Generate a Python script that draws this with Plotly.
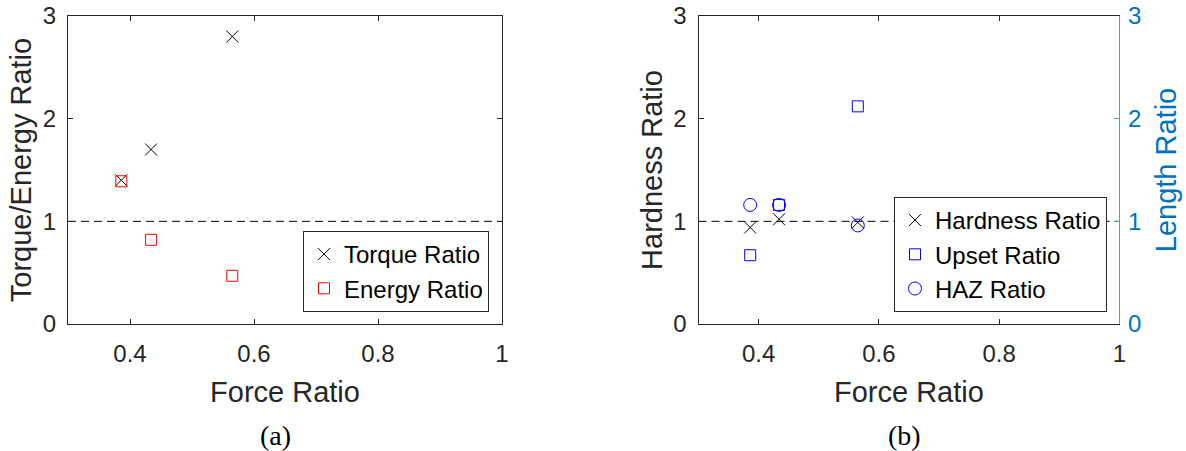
import plotly.graph_objects as go

# ---- data ----
force_ratio = [0.386, 0.434, 0.565]
torque_ratio = [1.40, 1.70, 2.80]
energy_ratio = [1.39, 0.82, 0.47]
hardness_ratio = [0.94, 1.02, 0.99]
upset_ratio = [0.67, 1.16, 2.12]
haz_ratio = [1.16, 1.16, 0.96]
ref_x = [0.3, 1.0]
ref_y = [1, 1]
x_ticks = [0.4, 0.6, 0.8, 1]
x_tick_text = ["0.4", "0.6", "0.8", "1"]
y_ticks = [0, 1, 2, 3]
y_tick_text = ["0", "1", "2", "3"]

DARK = "#262626"
BLUE = "#0072BD"
SANS = "Liberation Sans, Arial, sans-serif"
SERIF = "Liberation Serif, Times New Roman, serif"

fig = go.Figure()

# reference dashed lines
fig.add_trace(go.Scatter(x=ref_x, y=ref_y, mode="lines", xaxis="x", yaxis="y",
                         line=dict(color="black", width=1, dash="8px,5px"),
                         showlegend=False, hoverinfo="skip"))
fig.add_trace(go.Scatter(x=ref_x, y=ref_y, mode="lines", xaxis="x2", yaxis="y3",
                         line=dict(color="black", width=1, dash="8px,5px"),
                         showlegend=False, hoverinfo="skip"))

# panel (a)
fig.add_trace(go.Scatter(x=force_ratio, y=torque_ratio, mode="markers", name="Torque Ratio",
                         xaxis="x", yaxis="y", legend="legend",
                         marker=dict(symbol="x-thin-open", size=12, color="black",
                                     line=dict(color="black", width=1))))
fig.add_trace(go.Scatter(x=force_ratio, y=energy_ratio, mode="markers", name="Energy Ratio",
                         xaxis="x", yaxis="y", legend="legend",
                         marker=dict(symbol="square-open", size=11, color="red",
                                     line=dict(color="red", width=1))))

# panel (b)
fig.add_trace(go.Scatter(x=force_ratio, y=hardness_ratio, mode="markers", name="Hardness Ratio",
                         xaxis="x2", yaxis="y3", legend="legend2",
                         marker=dict(symbol="x-thin-open", size=12, color="black",
                                     line=dict(color="black", width=1))))
fig.add_trace(go.Scatter(x=force_ratio, y=upset_ratio, mode="markers", name="Upset Ratio",
                         xaxis="x2", yaxis="y4", legend="legend2",
                         marker=dict(symbol="square-open", size=11, color="blue",
                                     line=dict(color="blue", width=1))))
fig.add_trace(go.Scatter(x=force_ratio, y=haz_ratio, mode="markers", name="HAZ Ratio",
                         xaxis="x2", yaxis="y4", legend="legend2",
                         marker=dict(symbol="circle-open", size=13, color="blue",
                                     line=dict(color="blue", width=1))))

tickfont = dict(family=SANS, size=24, color=DARK)
titlefont = dict(family=SANS, size=29, color=DARK)

common_x = dict(range=[0.3, 1], tickmode="array", tickvals=x_ticks, ticktext=x_tick_text,
                ticks="inside", ticklen=5, tickcolor=DARK, showline=True, linecolor=DARK,
                linewidth=1, mirror="ticks", showgrid=False, zeroline=False,
                tickfont=tickfont, ticklabelstandoff=8, automargin=False,
                title=dict(text="Force Ratio", font=titlefont, standoff=15))
common_y = dict(range=[0, 3], tickmode="array", tickvals=y_ticks, ticktext=y_tick_text,
                ticks="inside", ticklen=5, tickcolor=DARK, showline=True, linecolor=DARK,
                linewidth=1, showgrid=False, zeroline=False, tickfont=tickfont,
                ticklabelstandoff=6, automargin=False)

y_dom = [1 - 324 / 451, 1 - 16 / 451]

fig.update_layout(
    width=1186, height=451,
    margin=dict(l=0, r=0, t=0, b=0, autoexpand=False),
    paper_bgcolor="white", plot_bgcolor="white",
    xaxis=dict(common_x, domain=[68 / 1186, 502 / 1186], anchor="y"),
    yaxis=dict(common_y, domain=y_dom, anchor="x", mirror="ticks",
               title=dict(text="Torque/Energy Ratio", font=titlefont, standoff=2)),
    xaxis2=dict(common_x, domain=[698.5 / 1186, 1119.3 / 1186], anchor="y3"),
    yaxis3=dict(common_y, domain=y_dom, anchor="x2", mirror=False,
                title=dict(text="Hardness Ratio", font=titlefont, standoff=2)),
    yaxis4=dict(common_y, overlaying="y3", side="right", anchor="x2",
                linecolor="#4D9FD6", tickcolor="#4D9FD6", ticklabelstandoff=3,
                tickfont=dict(family=SANS, size=24, color=BLUE),
                title=dict(text="Length Ratio", font=dict(family=SANS, size=29, color=BLUE),
                           standoff=15)),
    legend=dict(x=489 / 1186, y=1 - 312 / 451, xanchor="right", yanchor="bottom",
                bgcolor="white", bordercolor=DARK, borderwidth=1,
                font=dict(family=SANS, size=24, color="black"), tracegroupgap=0),
    legend2=dict(x=1107 / 1186, y=1 - 312 / 451, xanchor="right", yanchor="bottom",
                 bgcolor="white", bordercolor=DARK, borderwidth=1,
                 font=dict(family=SANS, size=24, color="black"), tracegroupgap=0),
    annotations=[
        dict(text="(a)", x=275 / 1186, y=1 - 435 / 451, xref="paper", yref="paper",
             xanchor="center", yanchor="middle", showarrow=False,
             font=dict(family=SERIF, size=28, color="black")),
        dict(text="(b)", x=904 / 1186, y=1 - 435 / 451, xref="paper", yref="paper",
             xanchor="center", yanchor="middle", showarrow=False,
             font=dict(family=SERIF, size=28, color="black")),
    ],
)

fig.write_html("out.html")
